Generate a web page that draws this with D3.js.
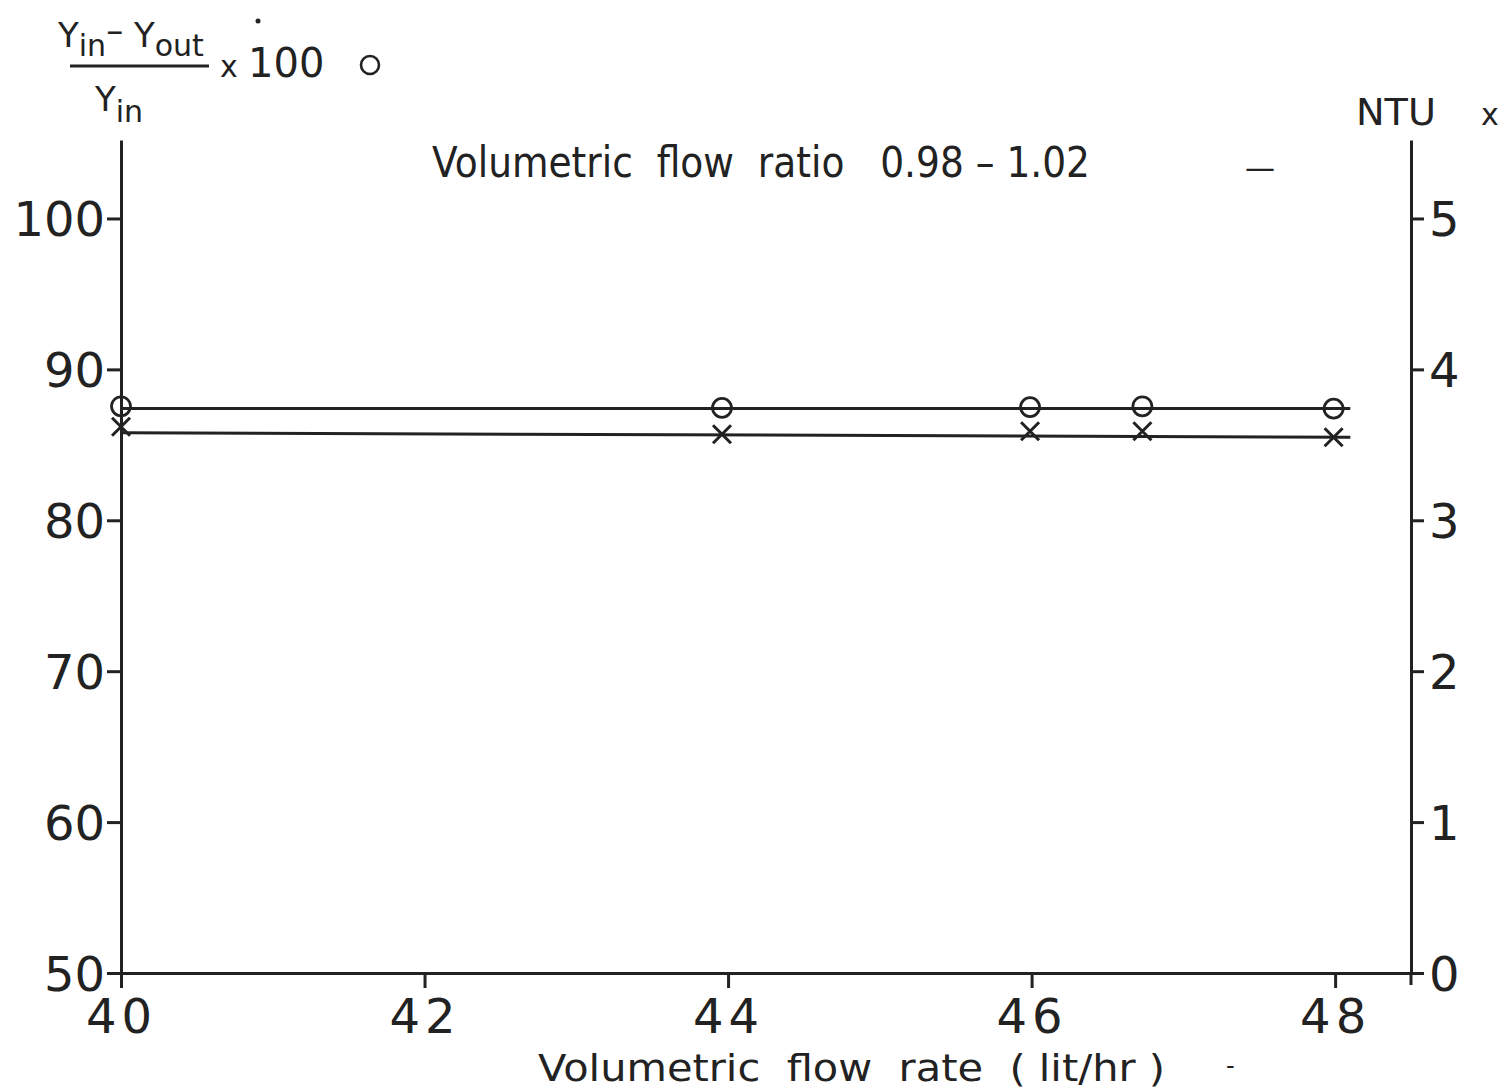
<!DOCTYPE html>
<html>
<head>
<meta charset="utf-8">
<script src="https://cdn.jsdelivr.net/npm/d3@7"></script>
<style>
  html, body { margin: 0; padding: 0; background: #fff; }
  svg { display: block; }
  text { fill: #222; font-family: "DejaVu Sans", sans-serif; white-space: pre; }
</style>
</head>
<body>
<div id="chart"></div>
<script>
// ---- data ----
const flowRate = [40, 43.96, 45.99, 46.73, 47.99];       // lit/hr
const removalPct = [87.55, 87.45, 87.5, 87.55, 87.4];    // (Yin-Yout)/Yin x 100  (o)
const ntuValues = [3.62, 3.57, 3.59, 3.59, 3.55];        // NTU (x)
const fitX = [40, 48.1];
const removalFit = [87.4, 87.4];
const ntuFit = [3.58, 3.55];
const xTicks = [40, 42, 44, 46, 48];
const yLeftTicks = [50, 60, 70, 80, 90, 100];
const yRightTicks = [0, 1, 2, 3, 4, 5];

const W = 1505, H = 1090;
const ink = "#222";
const sw = 3;

const svg = d3.select("#chart").append("svg").attr("width", W).attr("height", H);

const x = d3.scaleLinear().domain([40, 48.5]).range([121, 1411]);
const yL = d3.scaleLinear().domain([50, 105.2]).range([973, 140]);
const yR = d3.scaleLinear().domain([0, 5.52]).range([973, 140]);

function styleAxis(g) {
  g.selectAll("path.domain").attr("stroke", ink).attr("stroke-width", sw);
  g.selectAll(".tick line").attr("stroke", ink).attr("stroke-width", sw);
  g.selectAll(".tick text").attr("fill", ink).style("font-family", "'DejaVu Sans', sans-serif");
}

// left axis
const gL = svg.append("g").attr("transform", `translate(${x(40)},0)`)
  .call(d3.axisLeft(yL).tickValues(yLeftTicks).tickSize(14).tickSizeOuter(0).tickPadding(2).tickFormat(d3.format("d")));
styleAxis(gL);
gL.selectAll(".tick text").style("font-size", "48px").attr("dy", "0.36em");

// right axis
const gR = svg.append("g").attr("transform", `translate(${x(48.5)},0)`)
  .call(d3.axisRight(yR).tickValues(yRightTicks).tickSize(13).tickSizeOuter(0).tickPadding(5).tickFormat(d3.format("d")));
styleAxis(gR);
gR.selectAll(".tick text").style("font-size", "48px").attr("dy", "0.36em");

// bottom axis
const gB = svg.append("g").attr("transform", `translate(0,${yL(50)})`)
  .call(d3.axisBottom(x).tickValues(xTicks).tickSize(15).tickSizeOuter(0).tickPadding(10).tickFormat(d3.format("d")));
styleAxis(gB);
gB.selectAll(".tick text").style("font-size", "48px").style("letter-spacing", "5px").attr("dy", "0.72em");

// extension of right axis below the x axis
svg.append("line").attr("x1", x(48.5)).attr("x2", x(48.5)).attr("y1", yR(0)).attr("y2", yR(0) + 12)
  .attr("stroke", ink).attr("stroke-width", sw);

// fit lines
const lineL = d3.line().x((d, i) => x(fitX[i])).y(d => yL(d));
const lineR = d3.line().x((d, i) => x(fitX[i])).y(d => yR(d));
svg.append("path").datum(removalFit).attr("d", lineL).attr("fill", "none").attr("stroke", ink).attr("stroke-width", sw);
svg.append("path").datum(ntuFit).attr("d", lineR).attr("fill", "none").attr("stroke", ink).attr("stroke-width", sw);

// circle markers
svg.append("g").selectAll("circle").data(flowRate).join("circle")
  .attr("cx", d => x(d)).attr("cy", (d, i) => yL(removalPct[i]))
  .attr("r", 9.5).attr("fill", "none").attr("stroke", ink).attr("stroke-width", 2.8);

// cross markers
const cs = 9;
svg.append("g").selectAll("path").data(flowRate).join("path")
  .attr("d", (d, i) => {
    const cx = x(d), cy = yR(ntuValues[i]);
    return `M${cx - cs},${cy - cs}L${cx + cs},${cy + cs}M${cx + cs},${cy - cs}L${cx - cs},${cy + cs}`;
  })
  .attr("fill", "none").attr("stroke", ink).attr("stroke-width", 3);

// title inside plot
svg.append("text").attr("x", 432).attr("y", 177)
  .attr("textLength", 658).attr("lengthAdjust", "spacingAndGlyphs")
  .style("font-size", "42px").text("Volumetric  flow  ratio   0.98 – 1.02");
svg.append("text").attr("x", 1245).attr("y", 178).style("font-size", "30px").text("—");

// x axis title
svg.append("text").attr("x", 538).attr("y", 1081)
  .attr("textLength", 627).attr("lengthAdjust", "spacingAndGlyphs")
  .style("font-size", "38px").text("Volumetric  flow  rate  ( lit/hr )");
svg.append("text").attr("x", 1226).attr("y", 1074).style("font-size", "24px").text("-");

// left y label: (Yin - Yout)/Yin x 100  o
const lab = svg.append("g");
const num = lab.append("text").attr("x", 58).attr("y", 47).style("font-size", "34px");
num.append("tspan").text("Y");
num.append("tspan").attr("dy", 9).style("font-size", "30px").text("in");
num.append("tspan").attr("dy", -14).text("– ");
num.append("tspan").attr("dy", 5).text("Y");
num.append("tspan").attr("dy", 9).style("font-size", "30px").text("out");
lab.append("line").attr("x1", 70).attr("x2", 209).attr("y1", 66).attr("y2", 66).attr("stroke", ink).attr("stroke-width", sw);
const den = lab.append("text").attr("x", 95).attr("y", 111).style("font-size", "34px");
den.append("tspan").text("Y");
den.append("tspan").attr("dy", 11).style("font-size", "30px").text("in");
lab.append("text").attr("x", 220).attr("y", 77).style("font-size", "30px").text("x");
lab.append("text").attr("x", 248).attr("y", 77).style("font-size", "40px").text("100");
lab.append("circle").attr("cx", 258).attr("cy", 21).attr("r", 2.5).attr("fill", ink);
lab.append("circle").attr("cx", 370).attr("cy", 65).attr("r", 9).attr("fill", "none").attr("stroke", ink).attr("stroke-width", 2.6);

// right y label: NTU  x
svg.append("text").attr("x", 1356).attr("y", 125).attr("textLength", 80).attr("lengthAdjust", "spacingAndGlyphs")
  .style("font-size", "38px").text("NTU");
svg.append("text").attr("x", 1481).attr("y", 125).style("font-size", "30px").text("x");
</script>
</body>
</html>
